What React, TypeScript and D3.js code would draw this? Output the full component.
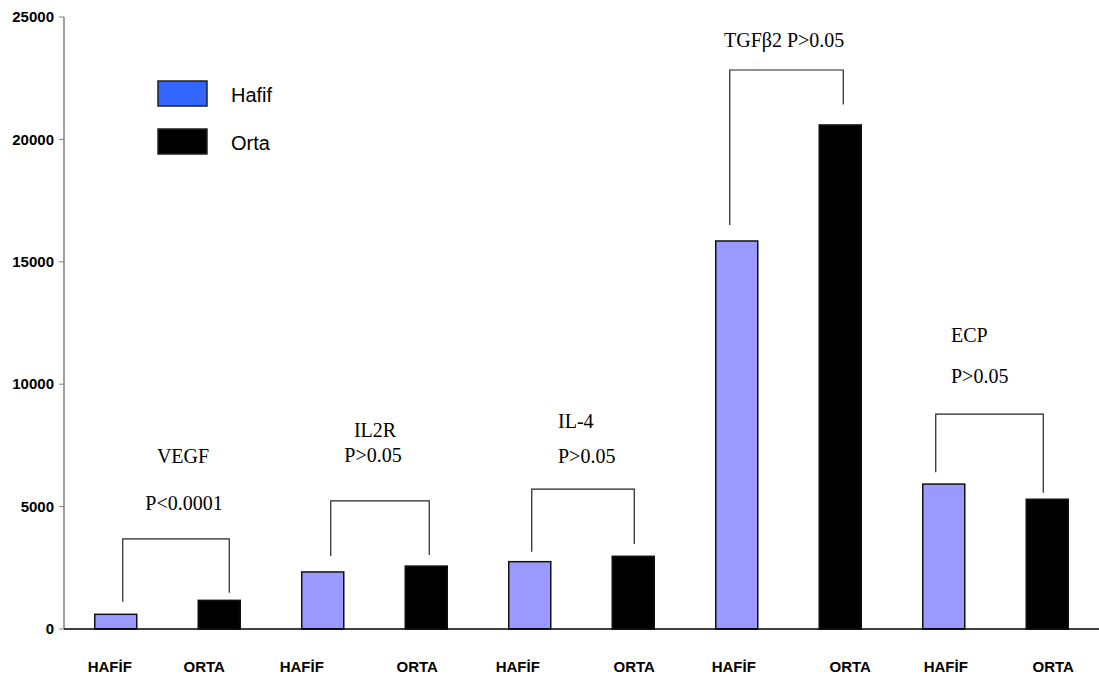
import React from "react";
import * as d3 from "d3";

const groups = ["HAFİF", "ORTA", "HAFİF", "ORTA", "HAFİF", "ORTA", "HAFİF", "ORTA", "HAFİF", "ORTA"];
const series = ["Hafif", "Orta", "Hafif", "Orta", "Hafif", "Orta", "Hafif", "Orta", "Hafif", "Orta"];
const values = [600, 1170, 2330, 2570, 2750, 2970, 15850, 20590, 5920, 5300];
const yTicks = [0, 5000, 10000, 15000, 20000, 25000];
const legendNames = ["Hafif", "Orta"];

// bracket: [left bar, right bar, top value, left end value, right end value]
const brackets = [
  [0, 1, 3680, 1115, 1480],
  [2, 3, 5230, 2980, 3020],
  [4, 5, 5710, 3160, 3470],
  [6, 7, 22835, 16500, 21430],
  [8, 9, 8780, 6400, 5570],
];
const bracketDx = [[7, 10], [8, 3], [2, 1], [-7, 3], [-8, -4]];

const annotations = [
  { text: "VEGF", x: 183, y: 463, anchor: "middle" },
  { text: "P<0.0001", x: 184, y: 510, anchor: "middle" },
  { text: "IL2R", x: 375, y: 437, anchor: "middle" },
  { text: "P>0.05", x: 373, y: 462, anchor: "middle" },
  { text: "IL-4", x: 558, y: 428, anchor: "start" },
  { text: "P>0.05", x: 558, y: 463, anchor: "start" },
  { text: "TGFβ2 P>0.05", x: 724, y: 47, anchor: "start" },
  { text: "ECP", x: 951, y: 342, anchor: "start" },
  { text: "P>0.05", x: 951, y: 383, anchor: "start" },
];
const labelDx = [-6, -15, -21, -9, -12, 1, -3, 10, 2, 6];

const W = 1099, H = 678;
const barColor: Record<string, string> = { Hafif: "#9999FF", Orta: "#000000" };
const legendColor: Record<string, string> = { Hafif: "#3366FF", Orta: "#000000" };

export default function App() {
  const x = d3.scaleBand<number>().domain(d3.range(values.length)).range([64, 1099]).paddingInner(0.594).paddingOuter(0.297);
  const y = d3.scaleLinear().domain([0, 25000]).range([629, 17]);
  const bw = x.bandwidth();
  const cx = (i: number) => (x(i) as number) + bw / 2;

  return (
    <svg width={W} height={H} style={{ position: "absolute", left: 0, top: 0, background: "#fff" }}>
      {/* y axis */}
      <line x1={64} x2={64} y1={y(25000)} y2={y(0)} stroke="#808080" strokeWidth={1.5} />
      {yTicks.map((t) => (
        <g key={t}>
          <line x1={59} x2={64} y1={y(t)} y2={y(t)} stroke="#808080" strokeWidth={1} />
          <text x={54} y={y(t)} dy="0.35em" textAnchor="end" fontFamily="Liberation Sans, Arial, sans-serif" fontWeight="bold" fontSize={15}>
            {t}
          </text>
        </g>
      ))}
      {/* bars */}
      {values.map((v, i) => (
        <rect key={i} x={x(i)} y={y(v)} width={bw} height={y(0) - y(v)} fill={barColor[series[i]]} stroke="#111" strokeWidth={1.5} />
      ))}
      {/* x axis */}
      <line x1={64} x2={1099} y1={y(0)} y2={y(0)} stroke="#000" strokeWidth={1.5} />
      {groups.map((g, i) => (
        <text key={i} x={cx(i) + labelDx[i]} y={672} textAnchor="middle" fontFamily="Liberation Sans, Arial, sans-serif" fontWeight="bold" fontSize={15}>
          {g}
        </text>
      ))}
      {/* brackets */}
      {brackets.map((b, k) => {
        const x1 = cx(b[0]) + bracketDx[k][0];
        const x2 = cx(b[1]) + bracketDx[k][1];
        const p = d3.path();
        p.moveTo(x1, y(b[3]));
        p.lineTo(x1, y(b[2]));
        p.lineTo(x2, y(b[2]));
        p.lineTo(x2, y(b[4]));
        return <path key={k} d={p.toString()} fill="none" stroke="#222" strokeWidth={1.2} />;
      })}
      {annotations.map((a, k) => (
        <text key={k} x={a.x} y={a.y} textAnchor={a.anchor as any} fontFamily="Liberation Serif, Times New Roman, serif" fontSize={20}>
          {a.text}
        </text>
      ))}
      {/* legend */}
      {legendNames.map((n, k) => (
        <g key={n} transform={`translate(158, ${81 + k * 48})`}>
          <rect x={0} y={0} width={49} height={25} fill={legendColor[n]} stroke="#222" strokeWidth={1.5} />
          <text x={73} y={21} fontFamily="Liberation Sans, Arial, sans-serif" fontSize={20}>
            {n}
          </text>
        </g>
      ))}
    </svg>
  );
}
